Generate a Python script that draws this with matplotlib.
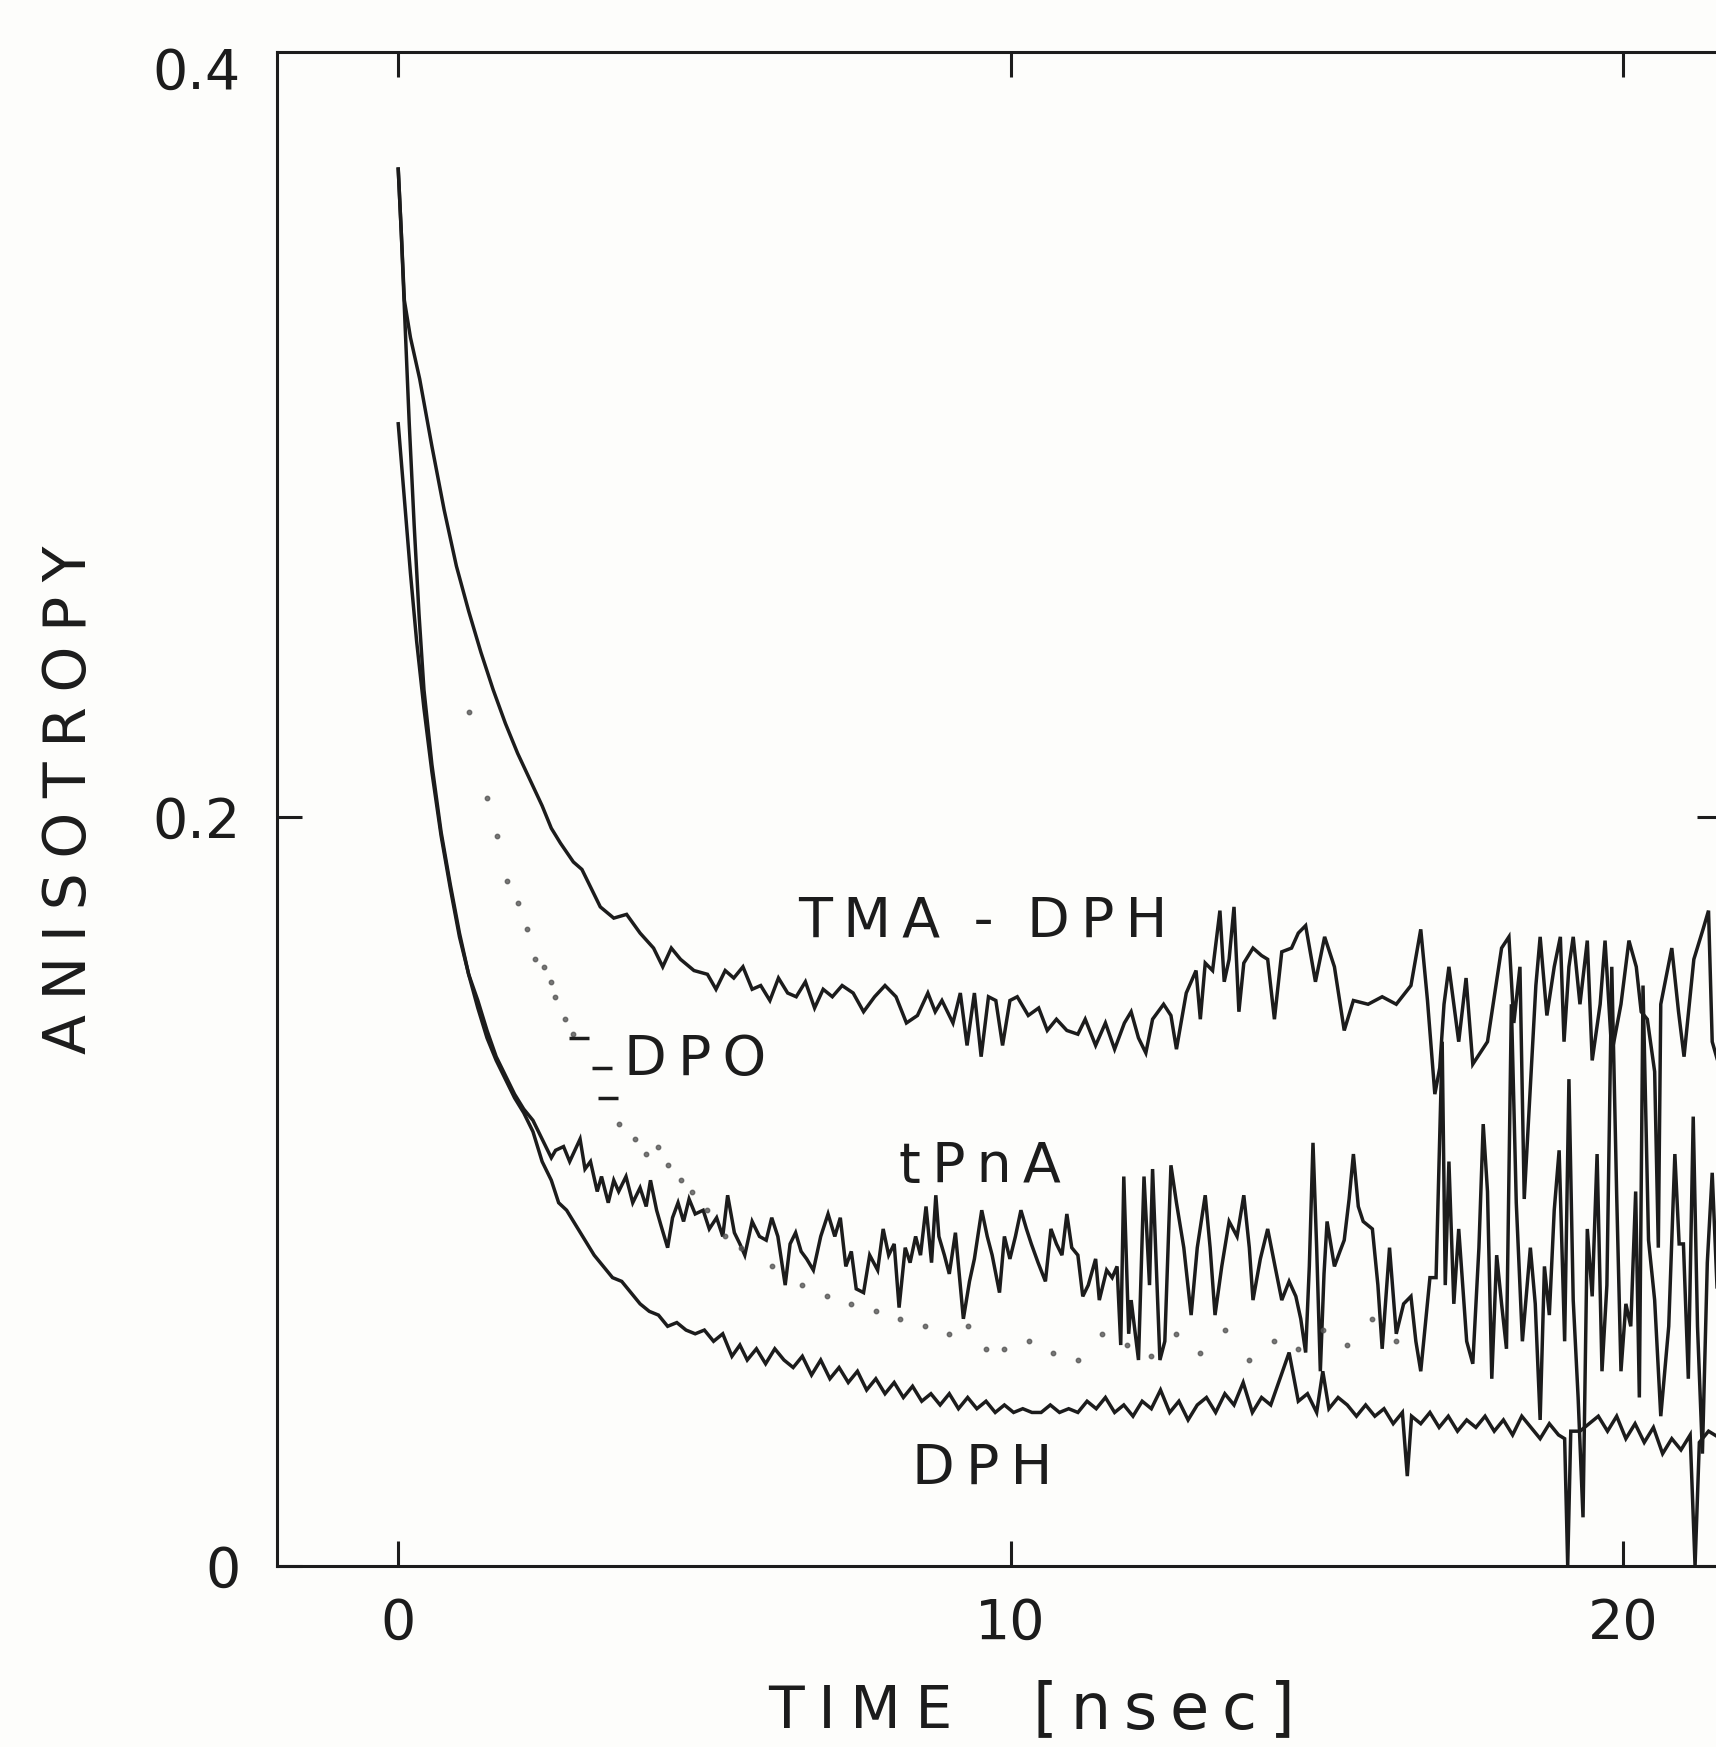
import numpy as np
import matplotlib
matplotlib.use("Agg")
import matplotlib.pyplot as plt

# ---------------- data (time in nsec, anisotropy) ----------------
tma_t = [0.00, 0.05, 0.10, 0.20, 0.35, 0.55, 0.75, 0.95, 1.15, 1.35,
         1.55, 1.75, 1.95, 2.15, 2.35, 2.50, 2.65, 2.86, 3.00, 3.15,
         3.30, 3.52, 3.73, 3.95, 4.17, 4.32, 4.46, 4.61, 4.83, 5.05,
         5.19, 5.34, 5.48, 5.63, 5.78, 5.92, 6.07, 6.21, 6.36, 6.50,
         6.65, 6.80, 6.94, 7.09, 7.25, 7.43, 7.60, 7.78, 7.95, 8.13,
         8.30, 8.48, 8.65, 8.77, 8.88, 9.06, 9.18, 9.29, 9.41, 9.52,
         9.64, 9.76, 9.87, 9.99, 10.11, 10.29, 10.46, 10.60, 10.75, 10.92,
         11.10, 11.22, 11.39, 11.55, 11.70, 11.86, 11.97, 12.09, 12.21, 12.32,
         12.50, 12.62, 12.71, 12.87, 13.03, 13.10, 13.18, 13.30, 13.42, 13.49,
         13.57, 13.65, 13.73, 13.81, 13.96, 14.10, 14.20, 14.31, 14.43, 14.59,
         14.70, 14.82, 14.98, 15.13, 15.29, 15.45, 15.60, 15.84, 16.07, 16.30,
         16.54, 16.70, 16.81, 16.93, 17.01, 17.08, 17.16, 17.32, 17.44, 17.55,
         17.79, 18.02, 18.14, 18.22, 18.32, 18.39, 18.49, 18.58, 18.65, 18.76,
         18.88, 18.98, 19.04, 19.12, 19.19, 19.30, 19.42, 19.50, 19.63, 19.71,
         19.82, 19.97, 20.10, 20.22, 20.30, 20.40, 20.52, 20.58, 20.62, 20.80,
         20.91, 21.00, 21.16, 21.31, 21.40, 21.46, 21.60]
tma_r = [0.373, 0.356, 0.338, 0.328, 0.317, 0.299, 0.282, 0.267, 0.255, 0.244,
         0.234, 0.225, 0.217, 0.210, 0.203, 0.197, 0.193, 0.188, 0.186, 0.181,
         0.176, 0.173, 0.174, 0.169, 0.165, 0.160, 0.165, 0.162, 0.159, 0.158,
         0.154, 0.159, 0.157, 0.160, 0.154, 0.155, 0.151, 0.157, 0.153, 0.152,
         0.156, 0.149, 0.154, 0.152, 0.155, 0.153, 0.148, 0.152, 0.155, 0.152,
         0.145, 0.147, 0.153, 0.148, 0.151, 0.145, 0.153, 0.139, 0.153, 0.136,
         0.152, 0.151, 0.139, 0.151, 0.152, 0.147, 0.149, 0.143, 0.146, 0.143,
         0.142, 0.146, 0.139, 0.145, 0.138, 0.145, 0.148, 0.141, 0.137, 0.146,
         0.150, 0.147, 0.138, 0.153, 0.159, 0.146, 0.161, 0.159, 0.175, 0.156,
         0.162, 0.176, 0.148, 0.161, 0.165, 0.163, 0.162, 0.146, 0.164, 0.165,
         0.169, 0.171, 0.156, 0.168, 0.160, 0.143, 0.151, 0.150, 0.152, 0.150,
         0.155, 0.170, 0.151, 0.126, 0.133, 0.150, 0.160, 0.140, 0.157, 0.134,
         0.140, 0.165, 0.168, 0.145, 0.160, 0.098, 0.128, 0.155, 0.168, 0.147,
         0.160, 0.168, 0.140, 0.160, 0.168, 0.150, 0.167, 0.135, 0.150, 0.167,
         0.137, 0.150, 0.167, 0.160, 0.148, 0.146, 0.132, 0.085, 0.150, 0.165,
         0.148, 0.136, 0.162, 0.170, 0.175, 0.140, 0.132]

dph_t = [0.00, 0.05, 0.10, 0.18, 0.26, 0.34, 0.42, 0.55, 0.70, 0.85,
         1.00, 1.15, 1.30, 1.45, 1.60, 1.75, 1.90, 2.05, 2.20, 2.35,
         2.50, 2.62, 2.75, 2.90, 3.05, 3.20, 3.35, 3.50, 3.65, 3.80,
         3.95, 4.10, 4.25, 4.40, 4.55, 4.70, 4.85, 5.00, 5.15, 5.30,
         5.45, 5.58, 5.70, 5.85, 6.00, 6.15, 6.30, 6.45, 6.60, 6.75,
         6.90, 7.05, 7.20, 7.35, 7.50, 7.65, 7.80, 7.95, 8.10, 8.25,
         8.40, 8.55, 8.70, 8.85, 9.00, 9.15, 9.30, 9.45, 9.60, 9.75,
         9.90, 10.05, 10.20, 10.35, 10.50, 10.65, 10.80, 10.95, 11.10, 11.25,
         11.40, 11.55, 11.70, 11.85, 12.00, 12.15, 12.30, 12.45, 12.60, 12.75,
         12.90, 13.05, 13.20, 13.35, 13.50, 13.65, 13.80, 13.95, 14.10, 14.25,
         14.40, 14.55, 14.70, 14.85, 15.00, 15.10, 15.20, 15.35, 15.50, 15.65,
         15.80, 15.95, 16.10, 16.25, 16.40, 16.48, 16.55, 16.70, 16.85, 17.00,
         17.15, 17.30, 17.45, 17.60, 17.75, 17.90, 18.05, 18.20, 18.35, 18.50,
         18.65, 18.80, 18.95, 19.05, 19.10, 19.15, 19.30, 19.45, 19.60, 19.75,
         19.90, 20.05, 20.20, 20.35, 20.50, 20.65, 20.80, 20.95, 21.10, 21.18,
         21.25, 21.40, 21.60]
dph_r = [0.373, 0.356, 0.336, 0.305, 0.278, 0.254, 0.234, 0.214, 0.196, 0.182,
         0.169, 0.158, 0.149, 0.141, 0.135, 0.130, 0.125, 0.121, 0.116, 0.108,
         0.103, 0.097, 0.095, 0.091, 0.087, 0.083, 0.080, 0.077, 0.076, 0.073,
         0.070, 0.068, 0.067, 0.064, 0.065, 0.063, 0.062, 0.063, 0.060, 0.062,
         0.056, 0.059, 0.055, 0.058, 0.054, 0.058, 0.055, 0.053, 0.056, 0.051,
         0.055, 0.050, 0.053, 0.049, 0.052, 0.047, 0.050, 0.046, 0.049, 0.045,
         0.048, 0.044, 0.046, 0.043, 0.046, 0.042, 0.045, 0.042, 0.044, 0.041,
         0.043, 0.041, 0.042, 0.041, 0.041, 0.043, 0.041, 0.042, 0.041, 0.044,
         0.042, 0.045, 0.041, 0.043, 0.040, 0.044, 0.042, 0.047, 0.041, 0.044,
         0.039, 0.043, 0.045, 0.041, 0.046, 0.043, 0.049, 0.041, 0.045, 0.043,
         0.050, 0.057, 0.044, 0.046, 0.041, 0.052, 0.042, 0.045, 0.043, 0.040,
         0.043, 0.040, 0.042, 0.038, 0.041, 0.024, 0.040, 0.038, 0.041, 0.037,
         0.040, 0.036, 0.039, 0.037, 0.040, 0.036, 0.039, 0.035, 0.040, 0.037,
         0.034, 0.038, 0.035, 0.034, 0.000, 0.036, 0.036, 0.038, 0.040, 0.036,
         0.040, 0.034, 0.038, 0.033, 0.037, 0.030, 0.034, 0.031, 0.035, 0.000,
         0.033, 0.036, 0.034]

tpna_t = [0.00, 0.10, 0.20, 0.30, 0.42, 0.55, 0.70, 0.85, 1.00, 1.15,
          1.30, 1.45, 1.60, 1.75, 1.90, 2.05, 2.20, 2.35, 2.50, 2.57,
          2.70, 2.80, 2.97, 3.05, 3.14, 3.25, 3.32, 3.43, 3.52, 3.60,
          3.72, 3.83, 3.95, 4.05, 4.12, 4.22, 4.29, 4.40, 4.48, 4.57,
          4.66, 4.75, 4.85, 4.98, 5.08, 5.20, 5.30, 5.38, 5.49, 5.58,
          5.66, 5.78, 5.90, 6.01, 6.10, 6.20, 6.32, 6.40, 6.49, 6.58,
          6.67, 6.78, 6.90, 7.02, 7.13, 7.22, 7.31, 7.40, 7.48, 7.60,
          7.70, 7.83, 7.92, 8.01, 8.10, 8.18, 8.28, 8.36, 8.45, 8.53,
          8.62, 8.71, 8.78, 8.83, 8.92, 9.00, 9.10, 9.23, 9.33, 9.41,
          9.53, 9.62, 9.70, 9.82, 9.90, 9.99, 10.08, 10.17, 10.26, 10.34,
          10.45, 10.57, 10.66, 10.75, 10.84, 10.92, 11.00, 11.10, 11.18, 11.27,
          11.39, 11.45, 11.57, 11.66, 11.74, 11.80, 11.85, 11.93, 11.97, 12.09,
          12.18, 12.27, 12.32, 12.44, 12.52, 12.62, 12.71, 12.83, 12.95, 13.05,
          13.18, 13.26, 13.34, 13.45, 13.57, 13.70, 13.81, 13.90, 13.96, 14.08,
          14.20, 14.32, 14.43, 14.55, 14.66, 14.74, 14.82, 14.88, 14.94, 15.00,
          15.06, 15.12, 15.17, 15.29, 15.38, 15.45, 15.53, 15.60, 15.68, 15.76,
          15.91, 16.00, 16.07, 16.19, 16.30, 16.42, 16.54, 16.62, 16.70, 16.85,
          16.95, 17.01, 17.05, 17.10, 17.16, 17.24, 17.32, 17.45, 17.55, 17.65,
          17.72, 17.79, 17.86, 17.94, 18.02, 18.10, 18.18, 18.26, 18.36, 18.49,
          18.57, 18.65, 18.72, 18.80, 18.88, 18.96, 19.05, 19.12, 19.19, 19.27,
          19.35, 19.42, 19.50, 19.58, 19.66, 19.74, 19.82, 19.90, 19.97, 20.05,
          20.13, 20.21, 20.27, 20.33, 20.42, 20.52, 20.62, 20.75, 20.85, 20.92,
          20.99, 21.07, 21.15, 21.22, 21.30, 21.38, 21.46, 21.55]
tpna_r = [0.305, 0.285, 0.265, 0.247, 0.229, 0.212, 0.195, 0.181, 0.168, 0.158,
          0.151, 0.143, 0.136, 0.131, 0.126, 0.122, 0.119, 0.114, 0.109, 0.111,
          0.112, 0.108, 0.114, 0.106, 0.108, 0.100, 0.104, 0.097, 0.103, 0.100,
          0.104, 0.097, 0.101, 0.096, 0.103, 0.095, 0.091, 0.085, 0.093, 0.097,
          0.092, 0.098, 0.094, 0.095, 0.090, 0.093, 0.088, 0.099, 0.089, 0.086,
          0.083, 0.092, 0.088, 0.087, 0.093, 0.088, 0.075, 0.086, 0.089, 0.084,
          0.082, 0.079, 0.088, 0.094, 0.088, 0.093, 0.080, 0.084, 0.074, 0.073,
          0.083, 0.079, 0.090, 0.083, 0.086, 0.069, 0.085, 0.081, 0.088, 0.083,
          0.096, 0.081, 0.099, 0.088, 0.083, 0.078, 0.089, 0.066, 0.076, 0.082,
          0.095, 0.088, 0.083, 0.073, 0.088, 0.082, 0.088, 0.095, 0.090, 0.086,
          0.081, 0.076, 0.090, 0.086, 0.083, 0.094, 0.085, 0.083, 0.072, 0.075,
          0.082, 0.071, 0.079, 0.077, 0.080, 0.059, 0.104, 0.062, 0.071, 0.055,
          0.104, 0.075, 0.106, 0.055, 0.060, 0.107, 0.097, 0.085, 0.067, 0.085,
          0.099, 0.085, 0.067, 0.080, 0.092, 0.088, 0.099, 0.085, 0.071, 0.082,
          0.090, 0.080, 0.071, 0.076, 0.072, 0.066, 0.057, 0.080, 0.113, 0.085,
          0.052, 0.078, 0.092, 0.080, 0.084, 0.087, 0.098, 0.110, 0.096, 0.092,
          0.090, 0.075, 0.058, 0.085, 0.062, 0.070, 0.072, 0.060, 0.052, 0.077,
          0.077, 0.115, 0.140, 0.075, 0.108, 0.070, 0.090, 0.060, 0.054, 0.085,
          0.118, 0.100, 0.050, 0.083, 0.070, 0.058, 0.150, 0.097, 0.060, 0.085,
          0.070, 0.039, 0.080, 0.067, 0.095, 0.111, 0.060, 0.130, 0.071, 0.045,
          0.013, 0.090, 0.072, 0.110, 0.052, 0.075, 0.160, 0.099, 0.052, 0.070,
          0.064, 0.100, 0.045, 0.155, 0.087, 0.071, 0.040, 0.064, 0.110, 0.086,
          0.086, 0.050, 0.120, 0.064, 0.030, 0.081, 0.105, 0.070]

dpo_t = [1.15, 1.45, 1.62, 1.78, 1.96, 2.10, 2.24, 2.38, 2.50, 2.56,
         2.72, 2.86, 3.60, 3.87, 4.05, 4.24, 4.40, 4.62, 4.80, 5.05,
         5.33, 5.60, 6.10, 6.60, 7.00, 7.40, 7.80, 8.20, 8.60, 9.00,
         9.30, 9.60, 9.90, 10.30, 10.70, 11.10, 11.50, 11.90, 12.30, 12.70,
         13.10, 13.50, 13.90, 14.30, 14.70, 15.10, 15.50, 15.90, 16.30]
dpo_r = [0.228, 0.205, 0.195, 0.183, 0.177, 0.170, 0.162, 0.160, 0.156, 0.152,
         0.146, 0.142, 0.118, 0.114, 0.110, 0.112, 0.107, 0.103, 0.100, 0.095,
         0.088, 0.085, 0.080, 0.075, 0.072, 0.070, 0.068, 0.066, 0.064, 0.062,
         0.064, 0.058, 0.058, 0.060, 0.057, 0.055, 0.062, 0.059, 0.056, 0.062,
         0.057, 0.063, 0.055, 0.060, 0.058, 0.063, 0.059, 0.066, 0.060]
dpo_dash_t = [2.96, 3.33, 3.42]
dpo_dash_r = [0.141, 0.133, 0.125]

curve_labels = ["TMA\u2009-\u2009DPH", "DPO", "tPnA", "DPH"]
label_t = [9.55, 4.85, 9.50, 9.53]
label_r = [0.172, 0.135, 0.1065, 0.026]

x_ticks = [0, 10, 20]
x_ticklabels = ["0", "10", "20"]
y_ticks = [0.0, 0.2, 0.4]
y_ticklabels = ["0", "0.2", "0.4"]

# ---------------- figure ----------------
plt.rcParams['font.family'] = ['DejaVu Sans']
W, H = 1716, 1747
fig = plt.figure(figsize=(W / 100, H / 100), dpi=100)
fig.patch.set_facecolor('#fdfdfb')

left, right, bottom, top = 277 / W, 1722 / W, 1 - 1566 / H, 1 - 52 / H
ax = fig.add_axes([left, bottom, right - left, top - bottom])
ax.set_facecolor('#fdfdfb')
ax.set_xlim(-1.98, 21.62)
ax.set_ylim(0, (1566 - 52) / 3745)

ink = '#1c1c1c'
lw = 2.5
ax.plot(tma_t, tma_r, color=ink, lw=lw, solid_joinstyle='miter')
ax.plot(tpna_t, tpna_r, color=ink, lw=lw, solid_joinstyle='miter')
ax.plot(dph_t, dph_r, color=ink, lw=lw, solid_joinstyle='miter')
ax.plot(dpo_t, dpo_r, linestyle='none', marker='o', ms=3.2, color='#555555', alpha=0.8)
ax.plot(dpo_dash_t, dpo_dash_r, linestyle='none', marker='_', ms=14, mew=2.5, color=ink)

for s, xt, yr in zip(curve_labels, label_t, label_r):
    ax.text(xt, yr, "\u2009".join(s), ha='center', va='center', fontsize=40, color=ink)

for sp in ax.spines.values():
    sp.set_linewidth(2.2)
    sp.set_color(ink)

ax.set_xticks(x_ticks)
ax.set_xticklabels(x_ticklabels)
ax.set_yticks(y_ticks)
ax.set_yticklabels(y_ticklabels)
ax.tick_params(axis='both', direction='in', length=18, width=2.2, color=ink,
               labelsize=40, labelcolor=ink, top=True, right=True)
ax.tick_params(axis='y', pad=26)
ax.tick_params(axis='x', pad=22)
# no separate tick marks at the 0.4 corner
top_tick = ax.yaxis.get_major_ticks()[2]
top_tick.tick1line.set_visible(False)
top_tick.tick2line.set_visible(False)

fig.text(70 / W, 1 - 800 / H, "\u2005".join("ANISOTROPY"), rotation=90,
         ha='center', va='center', fontsize=42, color=ink)
fig.text(860 / W, 1 - 1712 / H, "\u2005".join("TIME"),
         ha='center', va='center', fontsize=42, color=ink)
fig.text(1164 / W, 1 - 1710 / H, "[\u2009n\u2009s\u2009e\u2009c\u2009]",
         ha='center', va='center', fontsize=46, color=ink)

fig.savefig("out.png", dpi=100, facecolor=fig.get_facecolor())
